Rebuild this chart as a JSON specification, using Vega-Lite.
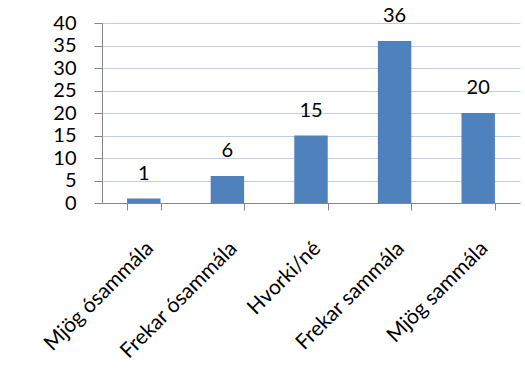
{
  "$schema": "https://vega.github.io/schema/vega-lite/v6.json",
  "autosize": "none",
  "width": 418,
  "height": 180,
  "padding": {"left": 102, "top": 23, "right": 5, "bottom": 174},
  "background": "#ffffff",
  "config": {
    "view": {"stroke": null},
    "font": "Lato"
  },
  "data": {
    "values": [
      {"svar": "Mjög ósammála", "fjoldi": 1},
      {"svar": "Frekar ósammála", "fjoldi": 6},
      {"svar": "Hvorki/né", "fjoldi": 15},
      {"svar": "Frekar sammála", "fjoldi": 36},
      {"svar": "Mjög sammála", "fjoldi": 20}
    ]
  },
  "encoding": {
    "x": {
      "field": "svar",
      "type": "nominal",
      "sort": null,
      "title": null,
      "scale": {"paddingInner": 0.6, "paddingOuter": 0.3},
      "axis": {
        "grid": false,
        "tickBand": "extent",
        "tickSize": 7,
        "tickColor": "#868686",
        "domainColor": "#868686",
        "labelAngle": -45,
        "labelAlign": "right",
        "labelBaseline": "middle",
        "labelPadding": 35,
        "labelOffset": 6,
        "labelFont": "Lato",
        "labelFontSize": 21,
        "labelColor": "#000000"
      }
    },
    "y": {
      "field": "fjoldi",
      "type": "quantitative",
      "title": null,
      "scale": {"domain": [0, 40], "nice": false},
      "axis": {
        "values": [0, 5, 10, 15, 20, 25, 30, 35, 40],
        "grid": true,
        "gridColor": "#BFCDE6",
        "gridWidth": 1,
        "tickSize": 8,
        "tickColor": "#868686",
        "domainColor": "#868686",
        "labelPadding": 18,
        "labelFont": "Lato",
        "labelFontSize": 20,
        "labelColor": "#000000"
      }
    }
  },
  "layer": [
    {"mark": {"type": "bar", "color": "#4F81BD"}},
    {
      "mark": {
        "type": "text",
        "baseline": "alphabetic",
        "dy": -19,
        "font": "Lato",
        "fontSize": 20,
        "color": "#000000"
      },
      "encoding": {"text": {"field": "fjoldi", "type": "quantitative"}}
    }
  ]
}
